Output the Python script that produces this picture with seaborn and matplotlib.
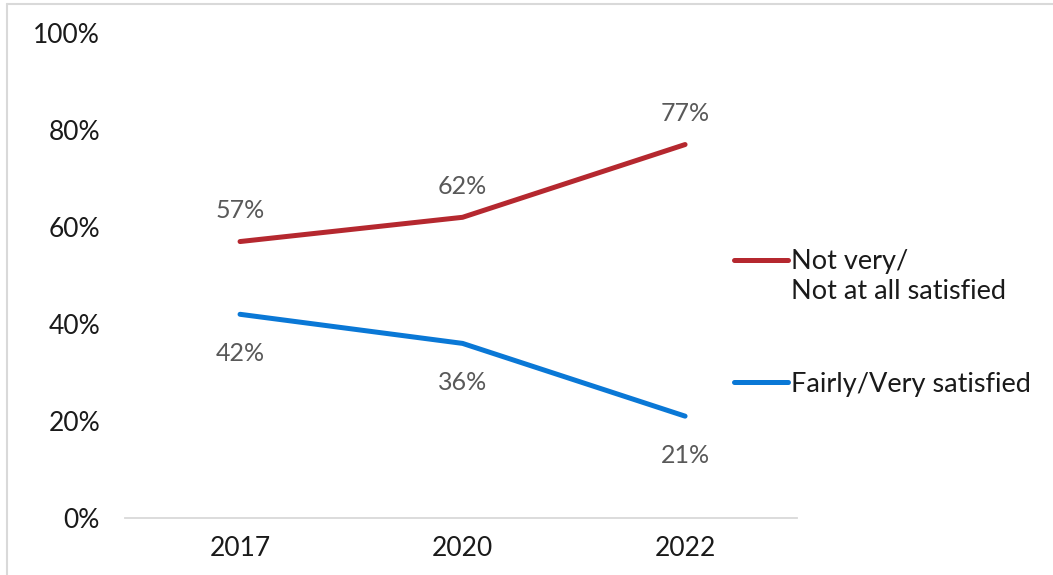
import matplotlib
matplotlib.use("Agg")
import matplotlib.pyplot as plt
import seaborn as sns
import pandas as pd
from matplotlib.lines import Line2D

years = ["2017", "2020", "2022"]
not_satisfied = [57, 62, 77]
satisfied = [42, 36, 21]
series_names = ["Not very/\nNot at all satisfied", "Fairly/Very satisfied"]
y_ticks = [0, 20, 40, 60, 80, 100]

colors = ["#B5282F", "#0A78D6"]

sns.set_theme(style="white")
plt.rcParams["font.family"] = ["Lato", "DejaVu Sans"]

df = pd.DataFrame({
    "year": years * 2,
    "value": not_satisfied + satisfied,
    "series": [series_names[0]] * 3 + [series_names[1]] * 3,
})

fig = plt.figure(figsize=(10.53, 5.75), dpi=100)
ax = fig.add_axes([125 / 1053, 1 - 518 / 575, (797 - 125) / 1053, (518 - 33) / 575])

sns.lineplot(data=df, x="year", y="value", hue="series", palette=colors,
             linewidth=3.6, ax=ax, sort=False, legend=False)
for line in ax.lines:
    line.set_solid_capstyle("round")

ax.set_xlim(-0.517, 2.503)
ax.set_ylim(0, 100)
ax.set_yticks(y_ticks)
ax.set_yticklabels([f"{t}%" for t in y_ticks])
ax.set_xlabel("")
ax.set_ylabel("")
ax.tick_params(axis="y", length=0, pad=18, labelsize=19, labelcolor="#1a1a1a")
ax.tick_params(axis="x", length=0, pad=13, labelsize=19, labelcolor="#1a1a1a")
for s in ["top", "right", "left"]:
    ax.spines[s].set_visible(False)
ax.spines["bottom"].set_color("#D9D9D9")
ax.spines["bottom"].set_linewidth(1.3)
ax.grid(False)

# data labels
for i, v in enumerate(not_satisfied):
    ax.annotate(f"{v}%", (i, v), xytext=(0, 22), textcoords="offset points",
                ha="center", va="center", fontsize=18, color="#595959")
for i, v in enumerate(satisfied):
    ax.annotate(f"{v}%", (i, v), xytext=(0, -28), textcoords="offset points",
                ha="center", va="center", fontsize=18, color="#595959")

handles = [Line2D([0], [0], color=c, lw=3.6, solid_capstyle="round") for c in colors]
leg = ax.legend(handles, series_names, loc="upper left",
                bbox_to_anchor=(734 / 1053, 1 - 249 / 575), bbox_transform=fig.transFigure,
                frameon=False, fontsize=19.5, handlelength=2.0, handletextpad=0.12,
                labelspacing=2.5, borderaxespad=0, borderpad=0)
for t in leg.get_texts():
    t.set_color("#1a1a1a")
    t.set_linespacing(1.25)
# align the first handle with the first text line
h0 = leg.legend_handles[0]
yd = h0.get_ydata()
h0.set_ydata([y + 12 for y in yd])

# figure border (top and left)
fig.add_artist(Line2D([6.5 / 1053, 6.5 / 1053], [0, 1 - 4 / 575], color="#D9D9D9", lw=1.5,
                      transform=fig.transFigure))
fig.add_artist(Line2D([6.5 / 1053, 1], [1 - 4 / 575, 1 - 4 / 575], color="#D9D9D9", lw=1.5,
                      transform=fig.transFigure))

fig.savefig("out.png", dpi=100)
